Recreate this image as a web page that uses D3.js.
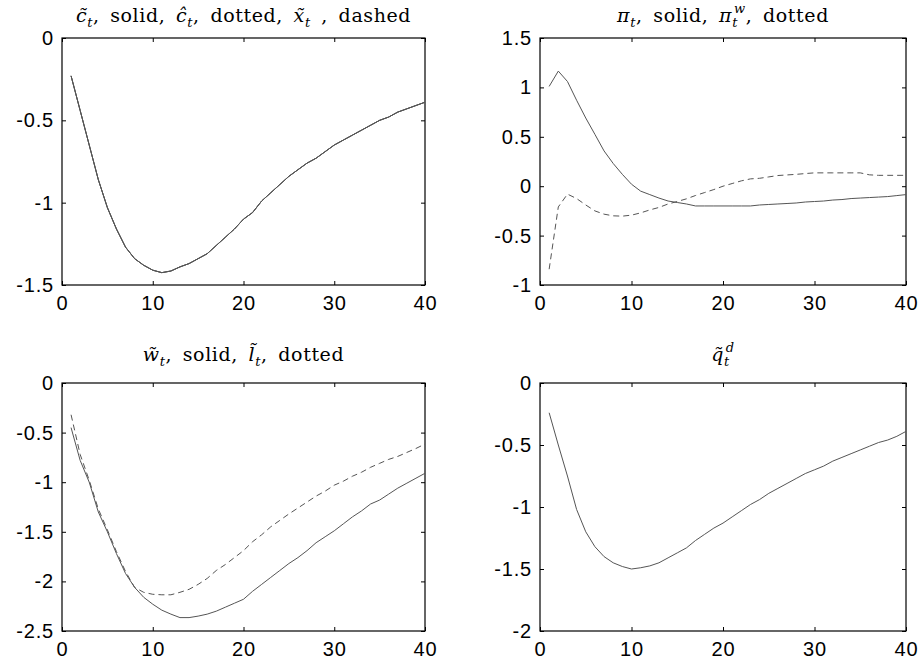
<!DOCTYPE html>
<html>
<head>
<meta charset="utf-8">
<script src="https://cdn.jsdelivr.net/npm/d3@7"></script>
<style>
  body { margin: 0; background: #fff; }
  .tick text { font-family: "Liberation Sans", Arial, sans-serif; font-size: 20px; letter-spacing: 0.8px; fill: #000; }
  .title { font-family: "DejaVu Serif", "Liberation Serif", serif; font-size: 19px; letter-spacing: 0.6px; word-spacing: 4px; fill: #000; }
</style>
</head>
<body>
<div class="C"></div>
<script>
// horizon 1..40
var periods = d3.range(1, 41);

// panel 1: c tilde (solid), c hat (dotted), x tilde (dashed) - they lie on top of each other
var cTilde = [-0.23,-0.44,-0.65,-0.86,-1.03,-1.16,-1.27,-1.34,-1.38,-1.41,
              -1.425,-1.415,-1.39,-1.37,-1.34,-1.31,-1.26,-1.21,-1.16,-1.10,
              -1.06,-0.99,-0.94,-0.89,-0.84,-0.80,-0.76,-0.73,-0.69,-0.65,
              -0.62,-0.59,-0.56,-0.53,-0.50,-0.48,-0.45,-0.43,-0.41,-0.39];
var cHat   = [-0.23,-0.44,-0.65,-0.86,-1.03,-1.16,-1.27,-1.34,-1.38,-1.41,
              -1.425,-1.415,-1.39,-1.37,-1.34,-1.31,-1.26,-1.21,-1.16,-1.10,
              -1.06,-0.99,-0.94,-0.89,-0.84,-0.80,-0.76,-0.73,-0.69,-0.65,
              -0.62,-0.59,-0.56,-0.53,-0.50,-0.48,-0.45,-0.43,-0.41,-0.39];
var xTilde = [-0.23,-0.44,-0.65,-0.86,-1.03,-1.16,-1.27,-1.34,-1.38,-1.41,
              -1.425,-1.415,-1.39,-1.37,-1.34,-1.31,-1.26,-1.21,-1.16,-1.10,
              -1.06,-0.99,-0.94,-0.89,-0.84,-0.80,-0.76,-0.73,-0.69,-0.65,
              -0.62,-0.59,-0.56,-0.53,-0.50,-0.48,-0.45,-0.43,-0.41,-0.39];

// panel 2: price inflation (solid), wage inflation (dotted)
var piP = [1.01,1.165,1.06,0.87,0.69,0.525,0.357,0.23,0.12,0.02,
           -0.05,-0.085,-0.12,-0.15,-0.165,-0.18,-0.2,-0.2,-0.2,-0.2,
           -0.2,-0.2,-0.2,-0.19,-0.185,-0.18,-0.175,-0.17,-0.16,-0.155,
           -0.15,-0.14,-0.135,-0.125,-0.12,-0.115,-0.11,-0.105,-0.095,-0.085];
var piW = [-0.84,-0.21,-0.08,-0.125,-0.19,-0.25,-0.283,-0.30,-0.303,-0.293,
           -0.27,-0.24,-0.215,-0.18,-0.155,-0.128,-0.094,-0.064,-0.034,0.0,
           0.027,0.054,0.074,0.08,0.094,0.108,0.114,0.12,0.128,0.135,
           0.135,0.135,0.135,0.135,0.135,0.115,0.11,0.11,0.11,0.11];

// panel 3: real wage (solid), hours (dotted)
var wTilde = [-0.45,-0.78,-1.0,-1.3,-1.5,-1.72,-1.92,-2.06,-2.16,-2.23,
              -2.29,-2.33,-2.365,-2.365,-2.35,-2.33,-2.30,-2.26,-2.22,-2.18,
              -2.10,-2.03,-1.96,-1.89,-1.82,-1.76,-1.69,-1.61,-1.55,-1.49,
              -1.42,-1.35,-1.29,-1.22,-1.18,-1.12,-1.06,-1.01,-0.96,-0.91];
var lTilde = [-0.32,-0.72,-0.98,-1.27,-1.48,-1.70,-1.90,-2.06,-2.11,-2.13,
              -2.135,-2.135,-2.11,-2.08,-2.03,-1.97,-1.89,-1.83,-1.76,-1.69,
              -1.60,-1.53,-1.45,-1.385,-1.32,-1.26,-1.20,-1.14,-1.09,-1.03,
              -0.99,-0.94,-0.90,-0.85,-0.81,-0.77,-0.74,-0.70,-0.66,-0.615];

// panel 4: domestic demand
var qD = [-0.24,-0.5,-0.75,-1.02,-1.2,-1.32,-1.40,-1.45,-1.48,-1.50,
          -1.49,-1.475,-1.45,-1.41,-1.37,-1.33,-1.27,-1.22,-1.17,-1.13,
          -1.08,-1.03,-0.98,-0.94,-0.89,-0.85,-0.81,-0.77,-0.73,-0.70,
          -0.67,-0.63,-0.60,-0.57,-0.54,-0.51,-0.48,-0.46,-0.43,-0.39];

var xTicks = [0, 10, 20, 30, 40];
var yTicks1 = [-1.5, -1, -0.5, 0];
var yTicks2 = [-1, -0.5, 0, 0.5, 1, 1.5];
var yTicks3 = [-2.5, -2, -1.5, -1, -0.5, 0];
var yTicks4 = [-2, -1.5, -1, -0.5, 0];

// title pieces: i = italic, r = roman, sub / sup = script
var title1 = [["i","c\u0303"],["sub","t"],["r",", solid, "],["i","c\u0302"],["sub","t"],["r",", dotted, "],["i","x\u0303"],["sub","t"],["r"," , dashed"]];
var title2 = [["i","\u03c0"],["sub","t"],["r",", solid, "],["i","\u03c0"],["sub","t"],["sup","w"],["r",", dotted"]];
var title3 = [["i","w\u0303"],["sub","t"],["r",", solid, "],["i","l\u0303"],["sub","t"],["r",", dotted"]];
var title4 = [["i","q\u0303"],["sub","t"],["sup","d"]];

var panels = [
  {left: 62, right: 425, top: 38, bottom: 285, ymin: -1.5, ymax: 0, yTicks: yTicks1, title: title1, titleY: 22,
   series: [{v: cTilde, dash: null}, {v: cHat, dash: null}, {v: xTilde, dash: null}]},
  {left: 540, right: 906, top: 38, bottom: 285, ymin: -1, ymax: 1.5, yTicks: yTicks2, title: title2, titleY: 22,
   series: [{v: piP, dash: null}, {v: piW, dash: "6,4"}]},
  {left: 62, right: 425, top: 383, bottom: 631, ymin: -2.5, ymax: 0, yTicks: yTicks3, title: title3, titleY: 361,
   series: [{v: wTilde, dash: null}, {v: lTilde, dash: "6,4"}]},
  {left: 540, right: 906, top: 383, bottom: 631, ymin: -2, ymax: 0, yTicks: yTicks4, title: title4, titleY: 361,
   series: [{v: qD, dash: null}]}
];

var svg = d3.select('.C').append('svg').attr('width', 924).attr('height', 665);

panels.forEach(function (p) {
  var x = d3.scaleLinear().domain([0, 40]).range([p.left, p.right]);
  var y = d3.scaleLinear().domain([p.ymin, p.ymax]).range([p.bottom, p.top]);
  var g = svg.append('g');
  var fmt = function (d) { return String(d); };

  g.append('g').attr('transform', 'translate(0,' + p.bottom + ')')
    .call(d3.axisBottom(x).tickValues(xTicks).tickSize(-4).tickPadding(11).tickFormat(fmt));
  g.append('g').attr('transform', 'translate(0,' + p.top + ')')
    .call(d3.axisTop(x).tickValues(xTicks).tickSize(-4).tickFormat(''));
  g.append('g').attr('transform', 'translate(' + p.left + ',0)')
    .call(d3.axisLeft(y).tickValues(p.yTicks).tickSize(-4).tickPadding(8).tickFormat(fmt));
  g.append('g').attr('transform', 'translate(' + p.right + ',0)')
    .call(d3.axisRight(y).tickValues(p.yTicks).tickSize(-4).tickFormat(''));
  g.selectAll('.domain').remove();
  g.selectAll('.tick line').attr('stroke', '#000');

  g.append('rect').attr('x', p.left).attr('y', p.top)
    .attr('width', p.right - p.left).attr('height', p.bottom - p.top)
    .attr('fill', 'none').attr('stroke', '#000').attr('stroke-width', 1.2);

  var line = d3.line().x(function (d, i) { return x(periods[i]); }).y(function (d) { return y(d); });
  p.series.forEach(function (s) {
    g.append('path').datum(s.v).attr('d', line)
      .attr('fill', 'none').attr('stroke', '#555').attr('stroke-width', 1)
      .attr('stroke-dasharray', s.dash);
  });

  // title with simple math typesetting
  var t = g.append('text').attr('class', 'title')
    .attr('x', (p.left + p.right) / 2).attr('y', p.titleY).attr('text-anchor', 'middle');
  var shift = 0, prevSub = false;
  p.title.forEach(function (part) {
    var kind = part[0], dy = 0, dx = 0;
    var ts = t.append('tspan').text(part[1]);
    if (kind === 'sub') { dy = 5 - shift; shift = 5; ts.style('font-size', '13px').style('font-style', 'italic'); }
    else if (kind === 'sup') {
      dy = -9 - shift; shift = -9; ts.style('font-size', '13px').style('font-style', 'italic');
      if (prevSub) dx = -4;
    }
    else { dy = -shift; shift = 0; if (kind === 'i') ts.style('font-style', 'italic'); }
    ts.attr('dy', dy).attr('dx', dx);
    prevSub = (kind === 'sub');
  });
});
</script>
</body>
</html>
